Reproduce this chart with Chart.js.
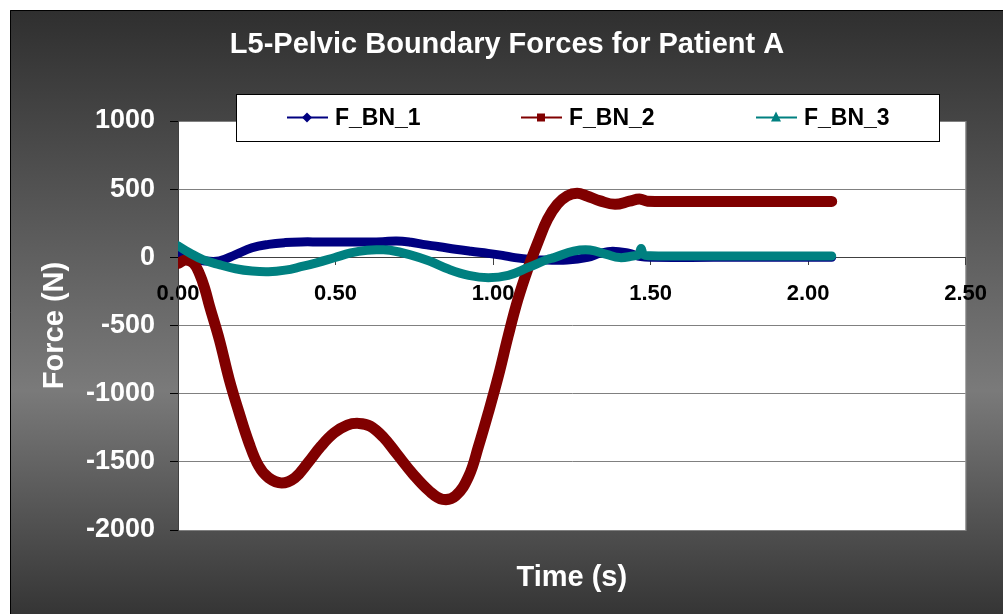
<!DOCTYPE html>
<html>
<head>
<meta charset="utf-8">
<script src="https://cdn.jsdelivr.net/npm/chart.js@4/dist/chart.umd.min.js"></script>
<style>
  body { margin: 0; background: #fff; }
  canvas { display: block; }
</style>
</head>
<body>
<canvas id="forceChart" width="1003" height="614"></canvas>
<script>
// values
const seriesNames = ["F_BN_1", "F_BN_2", "F_BN_3"];

const timeBN1 = [0, 0.04, 0.08, 0.131, 0.183, 0.235, 0.2875, 0.34, 0.39, 0.45, 0.5, 0.55, 0.6, 0.65, 0.694, 0.74, 0.777, 0.83, 0.881, 0.93, 0.985, 1.03, 1.069, 1.121, 1.17, 1.235, 1.3, 1.34, 1.38, 1.43, 1.47, 1.5, 1.7, 1.9, 2.075];
const forceBN1 = [25, -5, -25, -27, 20, 70, 95, 108, 113, 113, 113, 113, 113, 115, 120, 110, 95, 78, 59, 44, 29, 14, -2, -15, -20, -20, 0, 30, 45, 30, 5, 0, 0, 0, 0];

const timeBN2 = [0, 0.025, 0.05, 0.069, 0.085, 0.1, 0.131, 0.1625, 0.194, 0.225, 0.256, 0.2875, 0.329, 0.371, 0.4125, 0.454, 0.496, 0.5375, 0.574, 0.61, 0.652, 0.694, 0.746, 0.798, 0.84, 0.881, 0.923, 0.954, 0.985, 1.017, 1.048, 1.079, 1.11, 1.142, 1.173, 1.204, 1.235, 1.267, 1.298, 1.34, 1.387, 1.433, 1.465, 1.49, 1.6, 1.8, 2.0, 2.075];
const forceBN2 = [-45, -20, -45, -125, -230, -357, -602, -895, -1140, -1360, -1530, -1617, -1655, -1617, -1507, -1385, -1287, -1230, -1218, -1238, -1320, -1440, -1590, -1715, -1775, -1750, -1605, -1385, -1140, -870, -577, -308, -88, 108, 279, 389, 450, 470, 450, 414, 389, 412, 428, 412, 410, 410, 410, 410];

const timeBN3 = [0, 0.0375, 0.079, 0.131, 0.183, 0.235, 0.2875, 0.34, 0.39, 0.44, 0.496, 0.548, 0.6, 0.64, 0.673, 0.735, 0.798, 0.86, 0.923, 0.985, 1.048, 1.11, 1.173, 1.194, 1.256, 1.308, 1.36, 1.402, 1.444, 1.462, 1.47, 1.478, 1.5, 1.7, 1.9, 2.075];
const forceBN3 = [85, 32, -17, -54, -84, -101, -106, -94, -69, -40, -3, 32, 52, 55, 52, 20, -27, -88, -132, -149, -132, -76, -15, -2, 46, 54, 22, -2, 10, 20, 65, 20, 12, 10, 10, 10];

const xTicks = [0, 0.5, 1, 1.5, 2, 2.5];
const yTicks = [-2000, -1500, -1000, -500, 0, 500, 1000];

const colors = ["#000080", "#800000", "#008080"];
const FONT = "'Liberation Sans', Arial, sans-serif";
Chart.defaults.font.family = FONT;

function pts(ts, vs) {
  return ts.map((t, i) => ({ x: t, y: vs[i] }));
}

const framePlugin = {
  id: "frame",
  beforeDraw(chart) {
    const { ctx, width, height, chartArea: a } = chart;
    ctx.save();
    ctx.fillStyle = "#fff";
    ctx.fillRect(0, 0, width, height);
    const g = ctx.createLinearGradient(0, 10, 0, height);
    g.addColorStop(0, "#2f2f2f");
    g.addColorStop(0.63, "#7a7a7a");
    g.addColorStop(1, "#353535");
    ctx.fillStyle = g;
    ctx.fillRect(10, 10, width - 10, height - 10);
    ctx.strokeStyle = "#000";
    ctx.lineWidth = 1;
    ctx.beginPath();
    ctx.moveTo(10.5, height);
    ctx.lineTo(10.5, 10.5);
    ctx.lineTo(width, 10.5);
    ctx.stroke();
    ctx.fillStyle = "#fff";
    ctx.fillRect(a.left, a.top, a.right - a.left, a.bottom - a.top);
    ctx.strokeStyle = "#808080";
    ctx.strokeRect(a.left + 0.5, a.top + 0.5, a.right - a.left, a.bottom - a.top);
    ctx.restore();
  }
};

// legend box overlaps the top of the plot, so it is drawn here
const legendPlugin = {
  id: "boxLegend",
  afterDraw(chart) {
    const ctx = chart.ctx;
    const box = { x: 236, y: 94, w: 703, h: 47 };
    const cy = 117.5;
    const entries = [
      { x: 287, style: "diamond" },
      { x: 521, style: "square" },
      { x: 756, style: "triangle" }
    ];
    ctx.save();
    ctx.fillStyle = "#fff";
    ctx.fillRect(box.x, box.y, box.w, box.h);
    ctx.strokeStyle = "#000";
    ctx.lineWidth = 1;
    ctx.strokeRect(box.x + 0.5, box.y + 0.5, box.w, box.h);
    entries.forEach((e, i) => {
      const c = colors[i];
      ctx.strokeStyle = c;
      ctx.lineWidth = 2;
      ctx.beginPath();
      ctx.moveTo(e.x, cy);
      ctx.lineTo(e.x + 41, cy);
      ctx.stroke();
      const mx = e.x + 20;
      ctx.fillStyle = c;
      ctx.beginPath();
      if (e.style === "diamond") {
        ctx.moveTo(mx, cy - 5); ctx.lineTo(mx + 5, cy); ctx.lineTo(mx, cy + 5); ctx.lineTo(mx - 5, cy);
      } else if (e.style === "square") {
        ctx.rect(mx - 4, cy - 4, 8, 8);
      } else {
        ctx.moveTo(mx, cy - 6); ctx.lineTo(mx + 5, cy + 4); ctx.lineTo(mx - 5, cy + 4);
      }
      ctx.closePath();
      ctx.fill();
      ctx.fillStyle = "#000";
      ctx.font = "bold 23px " + FONT;
      ctx.textBaseline = "middle";
      ctx.fillText(seriesNames[i], e.x + 48, cy + 1);
    });
    ctx.restore();
  }
};

new Chart(document.getElementById("forceChart"), {
  type: "line",
  data: {
    datasets: [
      { label: seriesNames[0], data: pts(timeBN1, forceBN1), borderColor: colors[0], borderWidth: 9, order: 3 },
      { label: seriesNames[1], data: pts(timeBN2, forceBN2), borderColor: colors[1], borderWidth: 11, order: 2 },
      { label: seriesNames[2], data: pts(timeBN3, forceBN3), borderColor: colors[2], borderWidth: 9, order: 1 }
    ]
  },
  options: {
    responsive: false,
    animation: false,
    parsing: false,
    elements: {
      point: { radius: 0 },
      line: { tension: 0.4, borderCapStyle: "round", borderJoinStyle: "round" }
    },
    layout: { padding: { left: 36, right: 25, top: 0, bottom: 0 } },
    plugins: {
      legend: { display: false },
      tooltip: { enabled: false },
      title: {
        display: true,
        text: "L5-Pelvic Boundary Forces for Patient A",
        color: "#fff",
        font: { size: 29, weight: "bold" },
        padding: { top: 27.6, bottom: 58.6 }
      },
      subtitle: {
        display: true,
        position: "bottom",
        fullSize: false,
        text: "Time (s)",
        color: "#fff",
        font: { size: 29, weight: "bold" },
        padding: { top: 31, bottom: 18.2 }
      }
    },
    scales: {
      x: {
        type: "linear",
        position: { y: 0 },
        min: 0,
        max: 2.5,
        afterBuildTicks: s => { s.ticks = xTicks.map(v => ({ value: v })); },
        afterFit: s => { s.height = 0; },
        ticks: {
          callback: v => Number(v).toFixed(2),
          color: "#000",
          font: { size: 22, weight: "bold" },
          padding: 16,
          maxRotation: 0,
          autoSkip: false
        },
        grid: { drawOnChartArea: false, drawTicks: true, tickLength: 7, color: "#404040" },
        border: { color: "#404040" }
      },
      y: {
        min: -2000,
        max: 1000,
        afterBuildTicks: s => { s.ticks = yTicks.map(v => ({ value: v })); },
        afterFit: s => { s.width = 142; },
        ticks: {
          callback: v => String(v),
          color: "#fff",
          font: { size: 27, weight: "bold" },
          padding: 15
        },
        grid: { color: "#808080", tickColor: "#000", tickLength: 8 },
        border: { color: "#404040" },
        title: {
          display: true,
          text: "Force (N)",
          color: "#fff",
          font: { size: 29, weight: "bold" },
          padding: { top: 1.6, bottom: 0 }
        }
      }
    }
  },
  plugins: [framePlugin, legendPlugin]
});
</script>
</body>
</html>
